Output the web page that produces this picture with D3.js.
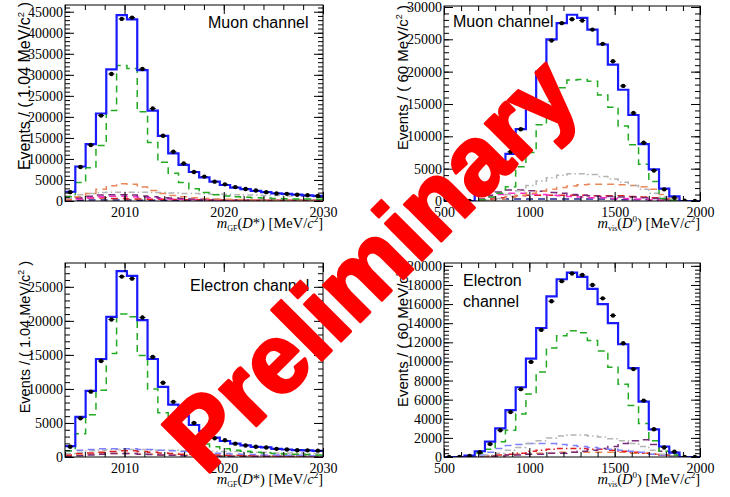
<!DOCTYPE html>
<html>
<head>
<meta charset="utf-8">
<script src="https://cdn.jsdelivr.net/npm/d3@7"></script>
<style>
body { margin: 0; background: #fff; }
</style>
</head>
<body>
<div id="svg"></div>
<script>
// all bin contents are in thousands of events, 25 bins per histogram
var dstarRange = [2004, 2030];   // m_GF(D*), 1.04 MeV bins
var d0Range = [500, 2000];       // m_vis(D0), 60 MeV bins

// muon channel, D* mass
var muDstarData = [2.1, 8.1, 13.3, 20.3, 30.2, 43.3, 43.6, 31.4, 22.0, 15.5, 11.7, 8.9, 6.9, 5.8, 4.6, 3.96, 3.3, 2.85, 2.5, 2.1, 1.8, 1.7, 1.5, 1.35, 1.2];
var muDstarFit = [2.2, 8.2, 13.5, 20.8, 31.3, 44.2, 43.2, 31.1, 21.5, 15.5, 11.3, 8.6, 6.9, 5.6, 4.6, 3.8, 3.2, 2.8, 2.4, 2.1, 1.8, 1.7, 1.5, 1.35, 1.2];
var muDstarSig = [1.0, 4.4, 7.9, 13.2, 21.5, 32.2, 31.5, 21.2, 13.9, 9.2, 6.6, 4.4, 2.9, 2.0, 1.5, 1.2, 1.0, 0.9, 0.8, 0.7, 0.6, 0.55, 0.5, 0.45, 0.4];
var muDstarOrange = [0.3, 1.0, 1.8, 2.8, 3.6, 4.1, 4.0, 3.3, 2.5, 1.8, 1.3, 1.0, 0.8, 0.6, 0.5, 0.4, 0.35, 0.3, 0.25, 0.2, 0.2, 0.15, 0.15, 0.1, 0.1];
var muDstarGrey = [1.2, 1.5, 1.8, 2.0, 2.1, 2.1, 2.1, 2.1, 2.0, 2.0, 1.9, 1.8, 1.8, 1.7, 1.6, 1.6, 1.5, 1.4, 1.4, 1.3, 1.3, 1.2, 1.2, 1.1, 1.0];
var muDstarPurple = [0.4, 0.8, 1.1, 1.4, 1.5, 1.5, 1.4, 1.2, 1.0, 0.8, 0.7, 0.6, 0.5, 0.4, 0.35, 0.3, 0.3, 0.25, 0.2, 0.2, 0.2, 0.15, 0.15, 0.1, 0.1];
var muDstarMagenta = [0.2, 0.5, 0.8, 1.0, 1.1, 1.1, 1.0, 0.9, 0.8, 0.6, 0.5, 0.4, 0.35, 0.3, 0.25, 0.2, 0.2, 0.15, 0.15, 0.1, 0.1, 0.1, 0.1, 0.1, 0.1];
var muDstarRed = [0.3, 0.6, 0.7, 0.7, 0.6, 0.6, 0.5, 0.5, 0.4, 0.4, 0.35, 0.3, 0.3, 0.3, 0.25, 0.25, 0.2, 0.2, 0.2, 0.2, 0.2, 0.2, 0.15, 0.15, 0.15];
var muDstarNavy = [0.15, 0.2, 0.25, 0.25, 0.25, 0.25, 0.25, 0.2, 0.2, 0.2, 0.15, 0.15, 0.15, 0.1, 0.1, 0.1, 0.1, 0.1, 0.1, 0.1, 0.1, 0.1, 0.1, 0.1, 0.1];

// muon channel, D0 visible mass
var muD0Data = [0, 0, 0, 1.0, 2.6, 4.9, 7.6, 11.1, 15.3, 19.9, 24.8, 27.5, 28.1, 27.9, 26.5, 24.3, 21.6, 17.8, 13.6, 9.0, 4.7, 1.8, 0.5, 0.05, 0];
var muD0Fit = [0, 0, 0, 1.2, 2.8, 4.8, 7.3, 11.1, 15.2, 20.0, 25.0, 27.5, 28.8, 28.3, 26.5, 24.2, 21.1, 17.2, 13.3, 8.8, 4.9, 1.9, 0.7, 0, 0];
var muD0Sig = [0, 0, 0, 0.2, 0.6, 1.2, 2.2, 5.3, 7.5, 11.8, 15.4, 17.5, 18.7, 18.8, 18.5, 16.4, 14.5, 11.6, 8.7, 5.7, 3.0, 0.4, 0.1, 0, 0];
var muD0Grey = [0, 0, 0, 0, 0.1, 0.4, 1.0, 1.6, 2.4, 3.1, 3.6, 4.0, 4.2, 4.2, 4.1, 3.8, 3.4, 2.9, 2.4, 1.8, 1.2, 0.6, 0.2, 0, 0];
var muD0Orange = [0, 0, 0, 0, 0.1, 0.3, 0.6, 0.9, 1.2, 1.5, 1.8, 2.1, 2.3, 2.5, 2.6, 2.6, 2.6, 2.5, 2.4, 2.2, 1.8, 1.0, 0.3, 0, 0];
var muD0Purple = [0, 0, 0, 0.3, 0.9, 1.4, 1.7, 1.7, 1.6, 1.5, 1.3, 1.2, 1.0, 0.9, 0.8, 0.7, 0.7, 0.6, 0.6, 0.5, 0.4, 0.2, 0.1, 0, 0];
var muD0Magenta = [0, 0, 0, 0.2, 0.6, 1.0, 1.2, 1.2, 1.1, 1.0, 0.9, 0.8, 0.7, 0.6, 0.5, 0.5, 0.4, 0.4, 0.3, 0.3, 0.2, 0.1, 0.05, 0, 0];
var muD0Red = [0, 0, 0, 0.1, 0.3, 0.5, 0.7, 0.8, 0.9, 0.9, 0.9, 0.9, 0.9, 0.9, 0.8, 0.8, 0.8, 0.8, 0.7, 0.6, 0.5, 0.3, 0.1, 0, 0];
var muD0Navy = [0, 0, 0, 0.1, 0.2, 0.3, 0.3, 0.3, 0.3, 0.3, 0.3, 0.3, 0.3, 0.3, 0.3, 0.3, 0.3, 0.2, 0.2, 0.2, 0.1, 0.1, 0, 0, 0];

// electron channel, D* mass
var eDstarData = [1.5, 5.7, 9.6, 14.1, 20.2, 26.5, 26.2, 20.5, 14.7, 10.9, 8.1, 6.4, 5.0, 3.9, 2.75, 2.45, 1.96, 1.7, 1.5, 1.4, 1.2, 1.1, 1.0, 0.98, 0.93];
var eDstarFit = [1.6, 5.9, 9.7, 14.4, 20.6, 27.3, 26.6, 20.1, 14.4, 10.3, 7.7, 6.0, 4.7, 3.8, 2.85, 2.35, 1.96, 1.7, 1.5, 1.4, 1.2, 1.1, 1.0, 0.98, 0.9];
var eDstarSig = [0.9, 3.4, 6.2, 9.8, 15.2, 21.0, 20.6, 14.9, 10.0, 6.5, 4.7, 3.3, 2.5, 1.9, 1.5, 1.2, 1.0, 0.85, 0.7, 0.6, 0.5, 0.45, 0.4, 0.35, 0.3];
var eDstarLightBlue = [0.9, 1.0, 1.1, 1.2, 1.2, 1.2, 1.2, 1.1, 1.1, 1.0, 0.9, 0.8, 0.7, 0.6, 0.55, 0.5, 0.45, 0.4, 0.35, 0.3, 0.3, 0.25, 0.25, 0.2, 0.2];
var eDstarGrey = [0.5, 0.7, 0.9, 1.0, 1.1, 1.1, 1.1, 1.1, 1.0, 1.0, 1.0, 0.9, 0.9, 0.9, 0.8, 0.8, 0.8, 0.7, 0.7, 0.7, 0.6, 0.6, 0.6, 0.5, 0.5];
var eDstarRed = [0.3, 0.5, 0.6, 0.7, 0.8, 0.9, 0.9, 0.8, 0.7, 0.6, 0.5, 0.4, 0.35, 0.3, 0.3, 0.25, 0.25, 0.2, 0.2, 0.2, 0.15, 0.15, 0.15, 0.1, 0.1];
var eDstarPurple = [0.1, 0.2, 0.3, 0.4, 0.5, 0.5, 0.5, 0.4, 0.35, 0.3, 0.25, 0.2, 0.2, 0.15, 0.15, 0.1, 0.1, 0.1, 0.1, 0.1, 0.1, 0.1, 0.1, 0.1, 0.1];
var eDstarOrange = [0.2, 0.3, 0.4, 0.5, 0.5, 0.5, 0.5, 0.4, 0.4, 0.3, 0.3, 0.25, 0.2, 0.2, 0.2, 0.15, 0.15, 0.15, 0.1, 0.1, 0.1, 0.1, 0.1, 0.1, 0.1];

// electron channel, D0 visible mass
var eD0Data = [0, 0, 0.1, 0.5, 1.35, 2.8, 4.7, 7.1, 9.95, 13.3, 16.3, 18.4, 19.2, 19.05, 18.0, 16.6, 14.8, 11.9, 9.2, 5.9, 2.9, 1.0, 0.55, 0, 0];
var eD0Fit = [0, 0, 0.15, 0.6, 1.6, 3.0, 4.9, 7.3, 10.3, 13.5, 16.8, 18.6, 19.3, 18.85, 17.6, 16.0, 14.0, 11.8, 9.3, 5.8, 2.9, 1.1, 0.45, 0, 0];
var eD0Sig = [0, 0, 0.1, 0.4, 0.8, 1.6, 2.8, 4.5, 6.6, 8.9, 11.4, 12.7, 13.2, 13.0, 12.2, 11.1, 9.4, 7.6, 5.4, 3.5, 1.7, 0.6, 0.2, 0, 0];
var eD0Grey = [0, 0, 0, 0.1, 0.2, 0.4, 0.7, 1.0, 1.4, 1.7, 2.0, 2.2, 2.3, 2.3, 2.2, 2.1, 1.9, 1.7, 1.4, 1.1, 0.7, 0.3, 0.1, 0, 0];
var eD0LightBlue = [0, 0, 0, 0.2, 0.5, 0.9, 1.2, 1.3, 1.4, 1.4, 1.4, 1.3, 1.2, 1.1, 1.0, 0.9, 0.8, 0.7, 0.6, 0.5, 0.3, 0.2, 0.05, 0, 0];
var eD0Purple = [0, 0, 0, 0, 0.1, 0.1, 0.2, 0.2, 0.3, 0.3, 0.4, 0.4, 0.5, 0.6, 0.7, 0.9, 1.1, 1.4, 1.7, 1.8, 1.3, 0.6, 0.2, 0, 0];
var eD0Red = [0, 0, 0, 0, 0.1, 0.2, 0.3, 0.4, 0.6, 0.7, 0.8, 0.9, 0.9, 0.9, 0.8, 0.8, 0.7, 0.6, 0.5, 0.4, 0.3, 0.2, 0.1, 0, 0];
var eD0Orange = [0, 0, 0, 0, 0.1, 0.1, 0.2, 0.3, 0.3, 0.4, 0.4, 0.5, 0.5, 0.5, 0.5, 0.5, 0.5, 0.5, 0.4, 0.4, 0.3, 0.2, 0.1, 0, 0];

// line styles of the fit components
var styles = {
    sig: { color: "#22aa22", dash: "7,5", width: 1.5 },
    orange: { color: "#e8875a", dash: "7,5", width: 1.5 },
    grey: { color: "#b4b4b4", dash: "6,3,1.5,3", width: 1.5 },
    purple: { color: "#7a2a7a", dash: "7,5", width: 1.5 },
    magenta: { color: "#ff30c8", dash: "7,5", width: 1.5 },
    red: { color: "#d82020", dash: "7,5", width: 1.5 },
    redDot: { color: "#e02020", dash: "6,3,1.5,3", width: 1.5 },
    navy: { color: "#24248c", dash: "7,5", width: 1.5 },
    lightBlue: { color: "#8080ff", dash: "7,5", width: 1.5 }
};

var panels = [
    { box: [65, 5, 323, 201], xDomain: dstarRange, yMax: 46.6, yMajor: 5, yMinor: 1,
      xMajor: [2010, 2020, 2030], xMinor: 2, kind: "dstar",
      yTitle: "1.04", yFont: 16, yTitleX: 30, yTitleEnd: 2,
      label: ["Muon channel"], labelX: 208, labelY: 28,
      data: muDstarData, fit: muDstarFit,
      comps: [[muDstarNavy, "navy"], [muDstarRed, "red"], [muDstarMagenta, "magenta"], [muDstarPurple, "purple"],
              [muDstarGrey, "grey"], [muDstarOrange, "orange"], [muDstarSig, "sig"]] },
    { box: [444, 6, 700, 201], xDomain: d0Range, yMax: 30.15, yMajor: 5, yMinor: 1,
      xMajor: [500, 1000, 1500, 2000], xMinor: 100, kind: "d0",
      yTitle: "60", yFont: 15, yTitleX: 408, yTitleEnd: 5,
      label: ["Muon channel"], labelX: 453, labelY: 27,
      data: muD0Data, fit: muD0Fit,
      comps: [[muD0Navy, "navy"], [muD0Red, "red"], [muD0Magenta, "magenta"], [muD0Purple, "purple"],
              [muD0Orange, "orange"], [muD0Grey, "grey"], [muD0Sig, "sig"]] },
    { box: [65, 263, 323, 457], xDomain: dstarRange, yMax: 28.5, yMajor: 5, yMinor: 1,
      xMajor: [2010, 2020, 2030], xMinor: 2, kind: "dstar",
      yTitle: "1.04", yFont: 14.5, yTitleX: 30, yTitleEnd: 261,
      label: ["Electron channel"], labelX: 190, labelY: 291,
      data: eDstarData, fit: eDstarFit,
      comps: [[eDstarOrange, "orange"], [eDstarPurple, "purple"], [eDstarRed, "red"],
              [eDstarGrey, "grey"], [eDstarLightBlue, "lightBlue"], [eDstarSig, "sig"]] },
    { box: [444, 263, 700, 457], xDomain: d0Range, yMax: 20.3, yMajor: 2, yMinor: 0.4,
      xMajor: [500, 1000, 1500, 2000], xMinor: 100, kind: "d0",
      yTitle: "60", yFont: 15, yTitleX: 408, yTitleEnd: 262,
      label: ["Electron", "channel"], labelX: 463, labelY: 286,
      data: eD0Data, fit: eD0Fit,
      comps: [[eD0Orange, "orange"], [eD0Red, "redDot"], [eD0Purple, "purple"],
              [eD0LightBlue, "lightBlue"], [eD0Grey, "grey"], [eD0Sig, "sig"]] }
];

var svg = d3.select("#svg").append("svg")
    .attr("width", 730)
    .attr("height", 497)
    .style("font-family", "'Liberation Serif', 'Times New Roman', serif");

var sans = "'Liberation Sans', Arial, Helvetica, sans-serif";

panels.forEach(function(p, pi) {
    var left = p.box[0], top = p.box[1], right = p.box[2], bottom = p.box[3];
    var nBins = p.fit.length;
    var binW = (p.xDomain[1] - p.xDomain[0]) / nBins;

    var x = d3.scaleLinear().domain(p.xDomain).range([left, right]);
    var y = d3.scaleLinear().domain([0, p.yMax]).range([bottom, top]);

    var g = svg.append("g");

    g.append("clipPath").attr("id", "clip" + pi)
        .append("rect")
        .attr("x", left).attr("y", top)
        .attr("width", right - left).attr("height", bottom - top);

    var edges = d3.range(nBins + 1).map(function(i) { return p.xDomain[0] + i * binW; });

    function stepPath(vals) {
        var pts = vals.map(function(v, i) { return [edges[i], v]; });
        pts.push([edges[nBins], vals[nBins - 1]]);
        return d3.line()
            .x(function(d) { return x(d[0]); })
            .y(function(d) { return y(d[1]); })
            .curve(d3.curveStepAfter)(pts);
    }

    var plot = g.append("g").attr("clip-path", "url(#clip" + pi + ")");

    // fit components
    p.comps.forEach(function(c) {
        var s = styles[c[1]];
        plot.append("path")
            .attr("d", stepPath(c[0]))
            .attr("fill", "none")
            .attr("stroke", s.color)
            .attr("stroke-width", s.width)
            .attr("stroke-dasharray", s.dash);
    });

    // total fit
    plot.append("path")
        .attr("d", stepPath(p.fit))
        .attr("fill", "none")
        .attr("stroke", "#1a1aff")
        .attr("stroke-width", 2.2);

    // data points
    var centers = edges.slice(0, nBins).map(function(e) { return e + binW / 2; });
    plot.selectAll(".bar").data(p.data)
        .enter().append("line")
        .attr("x1", function(d, i) { return x(centers[i]) - 3; })
        .attr("x2", function(d, i) { return x(centers[i]) + 3; })
        .attr("y1", function(d) { return y(d); })
        .attr("y2", function(d) { return y(d); })
        .attr("stroke", "#000")
        .attr("stroke-width", 1);
    plot.selectAll(".dot").data(p.data)
        .enter().append("circle")
        .attr("cx", function(d, i) { return x(centers[i]); })
        .attr("cy", function(d) { return y(d); })
        .attr("r", 2.2)
        .attr("fill", "#000");

    // frame
    g.append("rect")
        .attr("x", left).attr("y", top)
        .attr("width", right - left).attr("height", bottom - top)
        .attr("fill", "none")
        .attr("stroke", "#000")
        .attr("stroke-width", 1);

    var yMajorTicks = d3.range(0, p.yMax + 1e-9, p.yMajor);
    var yMinorTicks = d3.range(0, p.yMax + 1e-9, p.yMinor);
    var xMinorTicks = d3.range(Math.ceil(p.xDomain[0] / p.xMinor) * p.xMinor, p.xDomain[1] + 1e-9, p.xMinor);

    function clean(sel) {
        sel.select(".domain").remove();
        sel.selectAll("line").attr("stroke", "#000");
    }

    // y ticks, left with labels and right mirrored
    g.append("g").attr("transform", "translate(" + left + ",0)")
        .call(d3.axisLeft(y).tickValues(yMinorTicks).tickSizeInner(-5).tickSizeOuter(0).tickFormat(""))
        .call(clean);
    g.append("g").attr("transform", "translate(" + right + ",0)")
        .call(d3.axisRight(y).tickValues(yMinorTicks).tickSizeInner(-5).tickSizeOuter(0).tickFormat(""))
        .call(clean);
    g.append("g").attr("transform", "translate(" + right + ",0)")
        .call(d3.axisRight(y).tickValues(yMajorTicks).tickSizeInner(-9).tickSizeOuter(0).tickFormat(""))
        .call(clean);
    var yAx = g.append("g").attr("transform", "translate(" + left + ",0)")
        .call(d3.axisLeft(y).tickValues(yMajorTicks).tickSizeInner(-9).tickSizeOuter(0).tickPadding(2)
            .tickFormat(function(d) { return String(Math.round(d * 1000)); }))
        .call(clean);
    yAx.selectAll("text")
        .attr("font-family", "'Liberation Serif', 'Times New Roman', serif")
        .attr("font-size", 14)
        .attr("fill", "#000");

    // x ticks, bottom with labels and top mirrored
    g.append("g").attr("transform", "translate(0," + bottom + ")")
        .call(d3.axisBottom(x).tickValues(xMinorTicks).tickSizeInner(-5).tickSizeOuter(0).tickFormat(""))
        .call(clean);
    g.append("g").attr("transform", "translate(0," + top + ")")
        .call(d3.axisTop(x).tickValues(xMinorTicks).tickSizeInner(-5).tickSizeOuter(0).tickFormat(""))
        .call(clean);
    g.append("g").attr("transform", "translate(0," + top + ")")
        .call(d3.axisTop(x).tickValues(p.xMajor).tickSizeInner(-9).tickSizeOuter(0).tickFormat(""))
        .call(clean);
    var xAx = g.append("g").attr("transform", "translate(0," + bottom + ")")
        .call(d3.axisBottom(x).tickValues(p.xMajor).tickSizeInner(-9).tickSizeOuter(0).tickPadding(6)
            .tickFormat(d3.format("d")))
        .call(clean);
    xAx.selectAll("text")
        .attr("font-family", "'Liberation Serif', 'Times New Roman', serif")
        .attr("font-size", 14)
        .attr("fill", "#000");

    // x title
    var xt = g.append("text")
        .attr("x", right)
        .attr("y", bottom + 27)
        .attr("text-anchor", "end")
        .attr("font-size", 14.5)
        .attr("fill", "#000");
    xt.append("tspan").attr("font-style", "italic").text("m");
    if (p.kind === "dstar") {
        xt.append("tspan").attr("font-size", 8).attr("dy", 3).text("GF");
        xt.append("tspan").attr("dy", -3).text("(");
        xt.append("tspan").attr("font-style", "italic").text("D");
        xt.append("tspan").text("*) [MeV/");
    } else {
        xt.append("tspan").attr("font-size", 8).attr("dy", 3).text("vis");
        xt.append("tspan").attr("dy", -3).text("(");
        xt.append("tspan").attr("font-style", "italic").text("D");
        xt.append("tspan").attr("font-size", 9).attr("dy", -6).text("0");
        xt.append("tspan").attr("dy", 6).text(") [MeV/");
    }
    xt.append("tspan").attr("font-style", "italic").text("c");
    xt.append("tspan").attr("font-size", 9).attr("dy", -6).text("2");
    xt.append("tspan").attr("dy", 6).text("]");

    // y title
    var yt = g.append("text")
        .attr("transform", "translate(" + p.yTitleX + "," + p.yTitleEnd + ") rotate(-90)")
        .attr("text-anchor", "end")
        .attr("font-family", sans)
        .attr("font-size", p.yFont)
        .attr("fill", "#000");
    yt.append("tspan").text("Events / ( " + p.yTitle + " MeV/c");
    yt.append("tspan").attr("font-size", p.yFont * 0.6).attr("dy", -p.yFont * 0.4).text("2");
    yt.append("tspan").attr("dy", p.yFont * 0.4).text(" )");

    // channel label
    p.label.forEach(function(t, i) {
        g.append("text")
            .attr("x", p.labelX)
            .attr("y", p.labelY + i * 20.5)
            .attr("font-family", sans)
            .attr("font-size", 16)
            .attr("fill", "#000")
            .text(t);
    });
});

// watermark
svg.append("text")
    .attr("transform", "translate(370,264) rotate(-45)")
    .attr("text-anchor", "middle")
    .attr("dominant-baseline", "central")
    .attr("font-family", sans)
    .attr("font-weight", "bold")
    .attr("font-size", 98)
    .attr("fill", "#ff0000")
    .attr("stroke", "#ff0000")
    .attr("stroke-width", 3)
    .attr("stroke-linejoin", "round")
    .text("Preliminary");
</script>
</body>
</html>
